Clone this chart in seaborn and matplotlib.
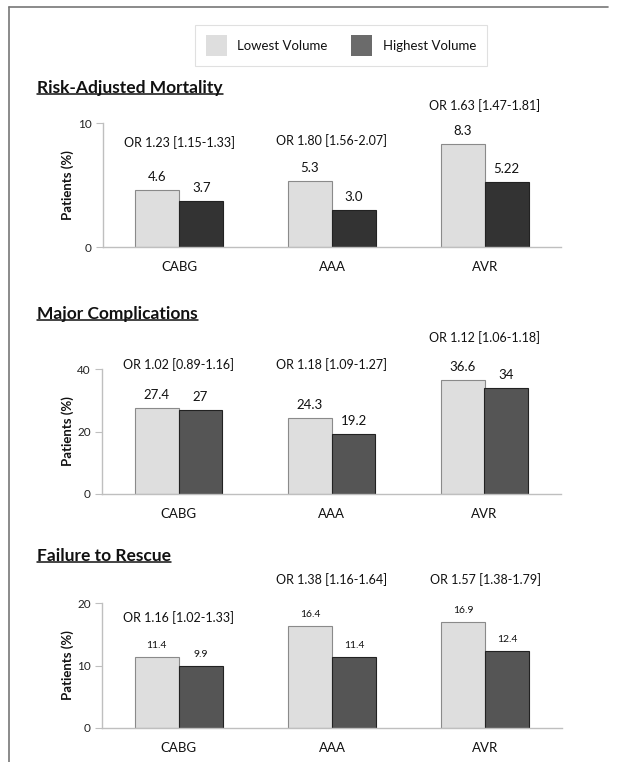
import seaborn as sns
from matplotlib import pyplot as plt
from matplotlib.lines import Line2D
from matplotlib.patches import Patch
import pandas as pd

procedures = ["CABG", "AAA", "AVR"]
volumes = ["Lowest Volume", "Highest Volume"]

mortality_low = [4.6, 5.3, 8.3]
mortality_high = [3.7, 3.0, 5.22]
mortality_text = ["4.6", "3.7", "5.3", "3.0", "8.3", "5.22"]
mortality_or = ["OR 1.23 [1.15-1.33]", "OR 1.80 [1.56-2.07]", "OR 1.63 [1.47-1.81]"]

complications_low = [27.4, 24.3, 36.6]
complications_high = [27, 19.2, 34]
complications_text = ["27.4", "27", "24.3", "19.2", "36.6", "34"]
complications_or = ["OR 1.02 [0.89-1.16]", "OR 1.18 [1.09-1.27]", "OR 1.12 [1.06-1.18]"]

rescue_low = [11.4, 16.4, 16.9]
rescue_high = [9.9, 11.4, 12.4]
rescue_text = ["11.4", "9.9", "16.4", "11.4", "16.9", "12.4"]
rescue_or = ["OR 1.16 [1.02-1.33]", "OR 1.38 [1.16-1.64]", "OR 1.57 [1.38-1.79]"]

W, H = 618, 762
LIGHT = "#dedede"

sns.set_style("white")
plt.rcParams["font.family"] = ["Lato", "DejaVu Sans"]

fig = plt.figure(figsize=(W / 100, H / 100), dpi=100)


def px_axes(left, right, top, bottom):
    return fig.add_axes([left / W, 1 - bottom / H, (right - left) / W, (bottom - top) / H])


panels = [
    dict(title="Risk-Adjusted Mortality", low=mortality_low, high=mortality_high,
         text=mortality_text, odds=mortality_or, dark="#333333",
         box=(103, 561, 123, 247), ylim=10, yticks=[0, 10], title_y=88, ylab_x=68,
         or_y=[8.45, 8.55, 11.4], vsize=9.5, voff=5),
    dict(title="Major Complications", low=complications_low, high=complications_high,
         text=complications_text, odds=complications_or, dark="#555555",
         box=(102, 561, 369, 494), ylim=40, yticks=[0, 20, 40], title_y=314, ylab_x=68,
         or_y=[41.3, 41.3, 50.2], vsize=9.5, voff=5),
    dict(title="Failure to Rescue", low=rescue_low, high=rescue_high,
         text=rescue_text, odds=rescue_or, dark="#555555",
         box=(102, 562, 603, 728), ylim=20, yticks=[0, 10, 20], title_y=556, ylab_x=68,
         or_y=[17.6, 23.7, 23.7], vsize=7.5, voff=5),
]

titles = []
for p in panels:
    ax = px_axes(*p["box"])
    df = pd.DataFrame({
        "procedure": procedures * 2,
        "volume": [volumes[0]] * 3 + [volumes[1]] * 3,
        "value": p["low"] + p["high"],
    })
    sns.barplot(data=df, x="procedure", y="value", hue="volume", hue_order=volumes,
                palette=[LIGHT, p["dark"]], width=0.575, gap=0, ax=ax, legend=False,
                linewidth=0.8)
    for bar in ax.patches[:3]:
        bar.set_edgecolor("#8a8a8a")
    for bar in ax.patches[3:]:
        bar.set_edgecolor("#222222")

    # value labels, ordered low/high per procedure
    order = [0, 3, 1, 4, 2, 5]
    for lbl, idx in zip(p["text"], order):
        bar = ax.patches[idx]
        ax.annotate(lbl, (bar.get_x() + bar.get_width() / 2, bar.get_height()),
                    xytext=(0, p["voff"]), textcoords="offset points", ha="center",
                    va="bottom", fontsize=p["vsize"], color="#111111", annotation_clip=False)
    for i, (txt, y) in enumerate(zip(p["odds"], p["or_y"])):
        ax.text(i, y, txt, ha="center", va="center", fontsize=9, color="#111111",
                clip_on=False)

    ax.set_xlim(-0.5, 2.5)
    ax.set_ylim(0, p["ylim"])
    ax.set_yticks(p["yticks"])
    ax.set_xticks([-0.5, 0.5, 1.5, 2.5], minor=True)
    ax.tick_params(axis="x", which="major", length=0, pad=10, labelsize=9.5, labelcolor="#111111")
    ax.tick_params(axis="x", which="minor", length=4, color="#bfbfbf", direction="out")
    ax.tick_params(axis="y", length=5, color="#bfbfbf", direction="out", labelsize=8.5,
                   labelcolor="#222222", left=True, pad=3)
    ax.set_xlabel("")
    ax.set_ylabel("")
    sns.despine(ax=ax)
    for s in ["left", "bottom"]:
        ax.spines[s].set_color("#bfbfbf")
        ax.spines[s].set_linewidth(1)

    left, right, top, bottom = p["box"]
    fig.text(p["ylab_x"] / W, 1 - (top + bottom) / 2 / H, "Patients (%)", rotation=90,
             ha="center", va="center", fontsize=9.5, fontweight="bold", color="#111111")
    t = fig.text(37 / W, 1 - p["title_y"] / H, p["title"], ha="left", va="center",
                 fontsize=12.5, fontweight="bold", color="#111111")
    titles.append(t)

# legend
handles = [Patch(facecolor=LIGHT, edgecolor="none"), Patch(facecolor="#6b6b6b", edgecolor="none")]
leg = fig.legend(handles, volumes, loc="center", bbox_to_anchor=(341 / W, 1 - 45.5 / H),
                 ncol=2, fontsize=9.5, frameon=True, fancybox=False, handlelength=1.6,
                 handleheight=2.0, handletextpad=0.8, columnspacing=1.8, borderpad=0.8,
                 borderaxespad=0)
leg.get_frame().set_edgecolor("#d9d9d9")
leg.get_frame().set_linewidth(0.8)
for t in leg.get_texts():
    t.set_color("#111111")

# underline the panel titles
fig.canvas.draw()
renderer = fig.canvas.get_renderer()
for t in titles:
    bb = t.get_window_extent(renderer)
    y = (bb.y0 + 2) / (H)
    fig.add_artist(Line2D([bb.x0 / W, bb.x1 / W], [y, y], color="#111111", linewidth=1.1))

# page frame (top and left edges)
fig.add_artist(Line2D([9 / W, 608 / W], [1 - 7 / H, 1 - 7 / H], color="#777777", linewidth=1.2))
fig.add_artist(Line2D([9 / W, 9 / W], [1 - 7 / H, 0], color="#777777", linewidth=1.2))

fig.savefig("out.png", dpi=100)
